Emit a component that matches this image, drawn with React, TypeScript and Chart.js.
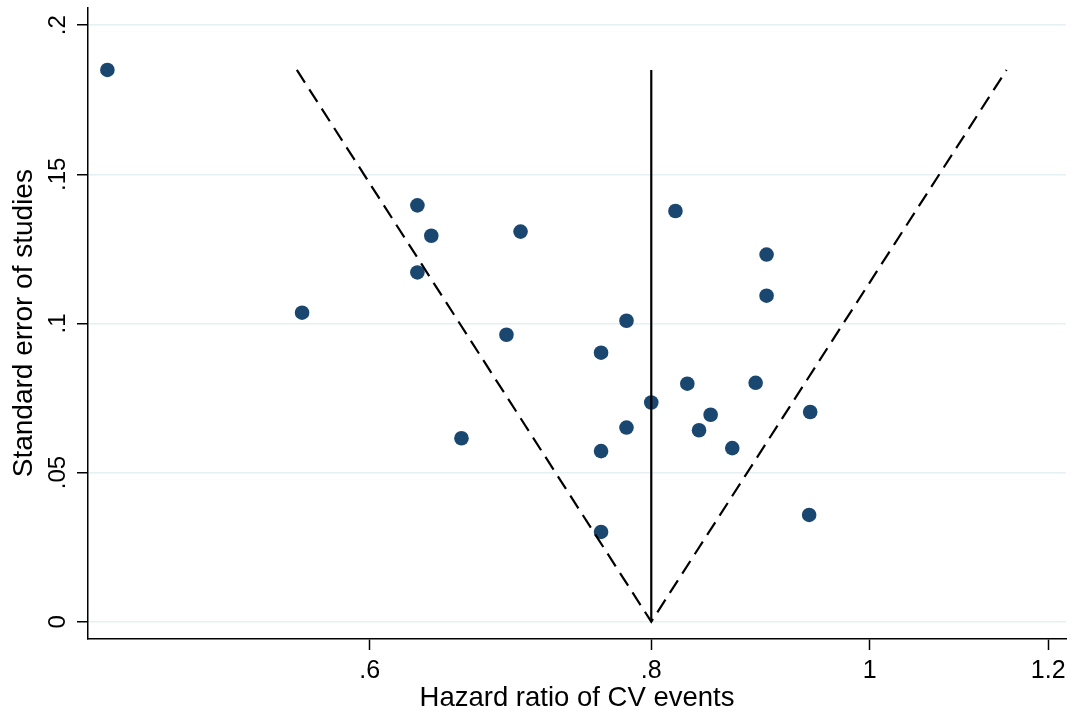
import React, { useEffect, useRef } from 'react';
import { Chart, registerables } from 'chart.js';

Chart.register(...registerables);

// Study estimates (hazard ratio, standard error)
const hazardRatios = [
  0.459, 0.560, 0.630, 0.639, 0.630, 0.700, 0.690, 0.659, 0.760, 0.780, 0.760, 0.780,
  0.800, 0.760, 0.830, 0.840, 0.850, 0.820, 0.869, 0.890, 0.900, 0.900, 0.941, 0.940,
];
const standardErrors = [
  0.185, 0.1036, 0.1396, 0.1294, 0.1171, 0.1308, 0.0962, 0.0615, 0.0902, 0.1009, 0.0572, 0.0651,
  0.0735, 0.0301, 0.0798, 0.0642, 0.0694, 0.1377, 0.0582, 0.0801, 0.1231, 0.1093, 0.0703, 0.0358,
];

// Pooled estimate line and pseudo 95% confidence limits
const pooledLineHR = [0.8, 0.8];
const pooledLineSE = [0, 0.185];
const funnelHR = [0.557, 0.8, 1.15];
const funnelSE = [0.185, 0, 0.185];

// Axes
const xTickValues = [0.6, 0.8, 1, 1.2];
const xTickLabels = ['.6', '.8', '1', '1.2'];
const yTickValues = [0, 0.05, 0.1, 0.15, 0.2];
const yTickLabels = ['0', '.05', '.1', '.15', '.2'];

const FONT = "'Liberation Sans', Arial, Helvetica, sans-serif";

export default function App() {
  const canvasRef = useRef<HTMLCanvasElement | null>(null);

  useEffect(() => {
    const canvas = canvasRef.current;
    if (!canvas) return;
    const toPts = (xs: number[], ys: number[]) => xs.map((x, i) => ({ x, y: ys[i] }));

    const chart = new Chart(canvas, {
      type: 'scatter',
      data: {
        datasets: [
          {
            label: 'Pooled',
            data: toPts(pooledLineHR, pooledLineSE),
            showLine: true,
            borderColor: '#000000',
            borderWidth: 2.2,
            pointRadius: 0,
            order: 0,
          },
          {
            label: 'Pseudo 95% CI',
            data: toPts(funnelHR, funnelSE),
            showLine: true,
            borderColor: '#000000',
            borderWidth: 2.2,
            borderDash: [15, 8],
            pointRadius: 0,
            order: 1,
          },
          {
            label: 'Studies',
            data: toPts(hazardRatios, standardErrors),
            showLine: false,
            pointRadius: 7.3,
            pointBackgroundColor: '#1a476f',
            pointBorderColor: '#1a476f',
            pointBorderWidth: 0,
            order: 2,
          },
        ],
      },
      options: {
        responsive: false,
        animation: false,
        layout: { padding: { left: 0, top: 6, right: 9, bottom: 0 } },
        plugins: {
          legend: { display: false },
          tooltip: { enabled: false },
        },
        scales: {
          x: {
            type: 'logarithmic',
            position: 'bottom',
            min: 0.452,
            max: 1.222,
            afterBuildTicks: (scale: any) => {
              scale.ticks = xTickValues.map((v) => ({ value: v }));
            },
            afterFit: (scale: any) => {
              scale.height = 81;
              scale.paddingLeft = 0;
              scale.paddingRight = 0;
            },
            ticks: {
              autoSkip: false,
              maxRotation: 0,
              minRotation: 0,
              padding: 6,
              color: '#000000',
              font: { family: FONT, size: 25 },
              callback: (_v: any, i: number) => xTickLabels[i],
            },
            grid: {
              drawOnChartArea: false,
              drawTicks: true,
              tickLength: 11,
              tickColor: '#000000',
              tickWidth: 1.5,
            },
            border: { display: true, color: '#000000', width: 1.5 },
            title: {
              display: true,
              text: 'Hazard ratio of CV events',
              color: '#000000',
              font: { family: FONT, size: 27.5, lineHeight: 1.2 },
              padding: { top: 0, bottom: 5 },
            },
          },
          y: {
            type: 'linear',
            position: 'left',
            min: -0.0058,
            max: 0.206,
            afterBuildTicks: (scale: any) => {
              scale.ticks = yTickValues.map((v) => ({ value: v }));
            },
            afterFit: (scale: any) => {
              scale.width = 88;
              scale.paddingTop = 0;
              scale.paddingBottom = 0;
            },
            ticks: {
              autoSkip: false,
              minRotation: 90,
              maxRotation: 90,
              crossAlign: 'center',
              padding: 2,
              color: '#000000',
              font: { family: FONT, size: 24 },
              callback: (_v: any, i: number) => yTickLabels[i],
            },
            grid: {
              drawOnChartArea: true,
              color: '#e6eff1',
              lineWidth: 1.5,
              drawTicks: true,
              tickLength: 11,
              tickColor: '#000000',
              tickWidth: 1.5,
            },
            border: { display: true, color: '#000000', width: 1.5 },
            title: {
              display: true,
              text: 'Standard error of studies',
              color: '#000000',
              font: { family: FONT, size: 28, lineHeight: 1.2 },
              padding: { top: 7, bottom: 0 },
            },
          },
        },
      } as any,
    });

    return () => {
      chart.destroy();
    };
  }, []);

  return (
    <div style={{ position: 'fixed', left: 0, top: 0, width: 1075, height: 720, background: '#ffffff' }}>
      <canvas ref={canvasRef} width={1075} height={720} style={{ display: 'block', width: 1075, height: 720 }} />
    </div>
  );
}
